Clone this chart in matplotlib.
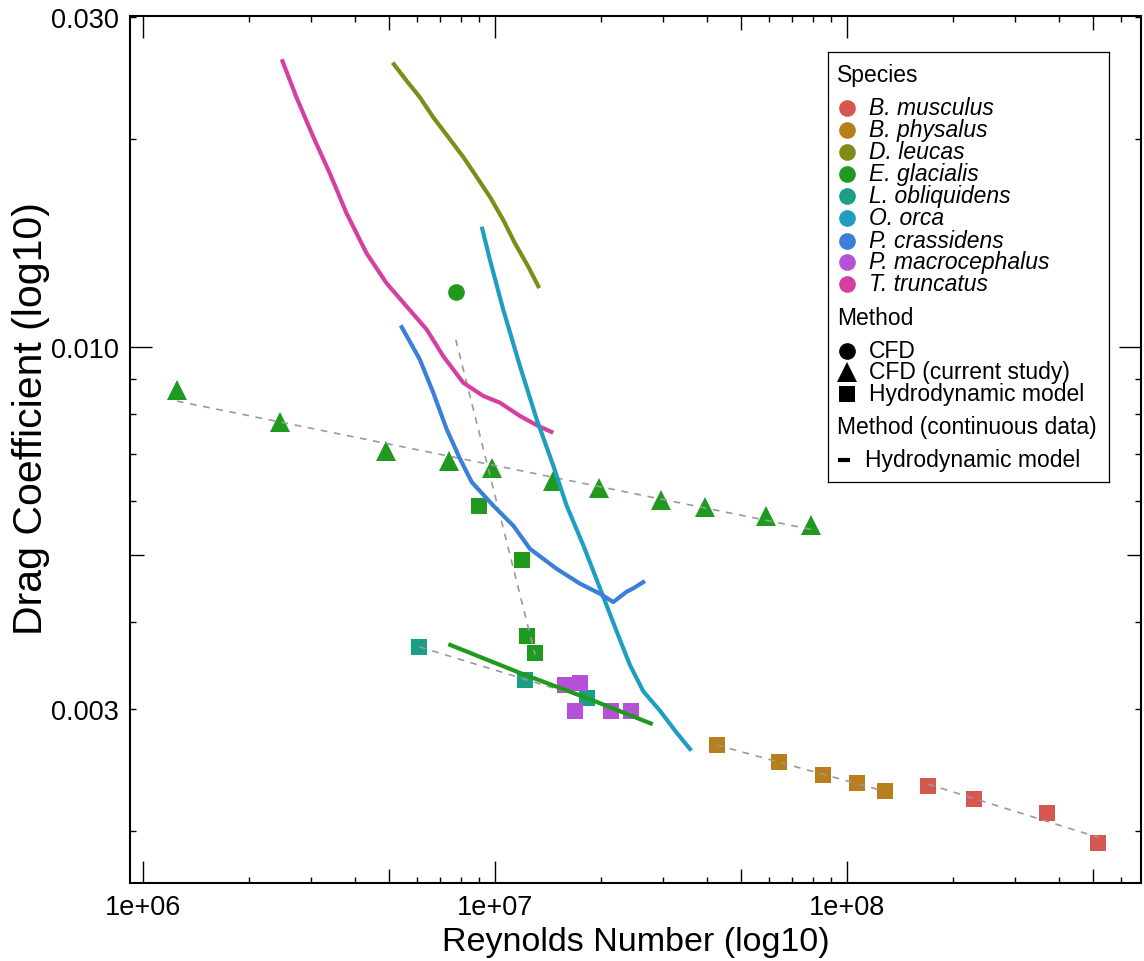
import numpy as np
import matplotlib.pyplot as plt
from matplotlib.ticker import FixedLocator, FuncFormatter, NullFormatter

plt.rcParams['font.family'] = ['Liberation Sans', 'DejaVu Sans']

species = ['B. musculus', 'B. physalus', 'D. leucas', 'E. glacialis', 'L. obliquidens',
           'O. orca', 'P. crassidens', 'P. macrocephalus', 'T. truncatus']
colors = ['#D6574F', '#B87E1C', '#7F8C1A', '#1F9A1F', '#1A9E86',
          '#1F9EC2', '#3B7FD8', '#B551D6', '#D43FA0']
col = dict(zip(species, colors))

# --- point data: Reynolds number / drag coefficient ---
# E. glacialis, CFD (current study)
eg_cur_re = [1.25e6, 2.45e6, 4.9e6, 7.4e6, 9.8e6, 1.46e7, 1.97e7, 2.96e7, 3.95e7, 5.9e7, 7.9e7]
eg_cur_cd = [0.00866, 0.00779, 0.00708, 0.00685, 0.00669, 0.00641, 0.00625, 0.00602, 0.00588, 0.00570, 0.00553]
# E. glacialis, CFD
eg_cfd_re = [7.74e6]
eg_cfd_cd = [0.0120]
# hydrodynamic model points
eg_hyd_re = [9.0e6, 1.19e7, 1.23e7, 1.30e7]
eg_hyd_cd = [0.00590, 0.00492, 0.00382, 0.00361]
lo_hyd_re = [6.1e6, 1.22e7, 1.83e7]
lo_hyd_cd = [0.00369, 0.00330, 0.00311]
pm_hyd_re = [1.58e7, 1.74e7, 1.69e7, 2.14e7, 2.43e7]
pm_hyd_cd = [0.00325, 0.00327, 0.00298, 0.00298, 0.00298]
bp_hyd_re = [4.27e7, 6.43e7, 8.55e7, 1.07e8, 1.28e8]
bp_hyd_cd = [0.00266, 0.00251, 0.00241, 0.00234, 0.00228]
bm_hyd_re = [1.70e8, 2.29e8, 3.69e8, 5.18e8]
bm_hyd_cd = [0.00232, 0.00222, 0.00212, 0.00192]

# --- continuous data (hydrodynamic model) ---
tt_re = [2.48e6, 2.73e6, 3.05e6, 3.40e6, 3.79e6, 4.32e6, 4.92e6, 5.61e6, 6.40e6, 7.13e6,
         8.13e6, 9.26e6, 1.033e7, 1.178e7, 1.327e7, 1.464e7]
tt_cd = [0.02606, 0.02296, 0.02011, 0.01780, 0.01560, 0.01366, 0.01237, 0.01145, 0.01060, 0.00970,
         0.00888, 0.00850, 0.00831, 0.00795, 0.00769, 0.00752]
dl_re = [5.12e6, 5.61e6, 6.12e6, 6.68e6, 7.37e6, 8.13e6, 8.87e6, 9.68e6, 1.056e7, 1.140e7, 1.243e7, 1.336e7]
dl_cd = [0.02577, 0.02426, 0.02296, 0.02148, 0.02011, 0.01882, 0.01762, 0.01648, 0.01526, 0.01412, 0.01307, 0.01217]
oo_re = [9.17e6, 9.68e6, 1.056e7, 1.178e7, 1.314e7, 1.464e7, 1.598e7, 1.782e7, 1.988e7, 2.217e7,
         2.418e7, 2.638e7, 2.943e7, 3.283e7, 3.612e7]
oo_cd = [0.01493, 0.01336, 0.01132, 0.00938, 0.00786, 0.00674, 0.00590, 0.00517, 0.00448, 0.00388,
         0.00347, 0.00318, 0.00298, 0.00277, 0.00261]
pc_re = [5.40e6, 6.12e6, 6.68e6, 7.29e6, 7.96e6, 8.59e6, 9.89e6, 1.127e7, 1.257e7, 1.497e7,
         1.744e7, 1.988e7, 2.168e7, 2.367e7, 2.471e7, 2.668e7]
pc_cd = [0.01075, 0.00959, 0.00859, 0.00761, 0.00689, 0.00638, 0.00590, 0.00552, 0.00511, 0.00478,
         0.00455, 0.00440, 0.00428, 0.00443, 0.00448, 0.00459]
eg_re = [7.37e6, 1.178e7, 1.822e7, 2.805e7]
eg_cd = [0.00372, 0.00338, 0.00311, 0.00285]

W, H = 1144, 962
fig = plt.figure(figsize=(W / 100, H / 100), dpi=100)
ax = fig.add_axes([130 / W, 1 - 884 / H, 1011 / W, 867 / H])
ax.set_xscale('log')
ax.set_yscale('log')
xlim = (9.19e5, 6.84e8)
ylim = (0.00168, 0.0301)
ax.set_xlim(xlim)
ax.set_ylim(ylim)

# points
ms = 12
ax.plot(bm_hyd_re, bm_hyd_cd, 's', ms=ms, mew=0, color=col['B. musculus'], zorder=2)
ax.plot(bp_hyd_re, bp_hyd_cd, 's', ms=ms, mew=0, color=col['B. physalus'], zorder=2)
ax.plot(eg_hyd_re, eg_hyd_cd, 's', ms=ms, mew=0, color=col['E. glacialis'], zorder=2)
ax.plot(lo_hyd_re, lo_hyd_cd, 's', ms=ms, mew=0, color=col['L. obliquidens'], zorder=2)
ax.plot(pm_hyd_re, pm_hyd_cd, 's', ms=ms, mew=0, color=col['P. macrocephalus'], zorder=2)
ax.plot(eg_cfd_re, eg_cfd_cd, 'o', ms=ms, mew=0, color=col['E. glacialis'], zorder=2)
ax.plot(eg_cur_re, eg_cur_cd, '^', ms=15, mew=0, color=col['E. glacialis'], zorder=2)

# log-log linear fits per group
fits = [(eg_cur_re, eg_cur_cd), (eg_cfd_re + eg_hyd_re, eg_cfd_cd + eg_hyd_cd),
        (lo_hyd_re, lo_hyd_cd), (pm_hyd_re, pm_hyd_cd), (bp_hyd_re, bp_hyd_cd), (bm_hyd_re, bm_hyd_cd)]
for re, cd in fits:
    lx, ly = np.log10(re), np.log10(cd)
    k, b = np.polyfit(lx, ly, 1)
    xs = np.array([lx.min(), lx.max()])
    ax.plot(10 ** xs, 10 ** (k * xs + b), color='#9A9A9A', lw=1.2, ls=(0, (4, 4)), zorder=3)

# continuous curves
for re, cd, sp in [(tt_re, tt_cd, 'T. truncatus'), (dl_re, dl_cd, 'D. leucas'), (oo_re, oo_cd, 'O. orca'),
                   (pc_re, pc_cd, 'P. crassidens'), (eg_re, eg_cd, 'E. glacialis')]:
    ax.plot(re, cd, '-', lw=3.0, color=col[sp], solid_capstyle='butt', solid_joinstyle='round', zorder=4)

# log ticks: long at 10^k, short at the others, medium at 5*10^k
xmaj = [1e6, 1e7, 1e8]
xmin_ = [m * 10 ** e for e in (5, 6, 7, 8) for m in (2, 3, 4, 6, 7, 8, 9)]
ymaj = [0.01]
ymin_ = [m * 10 ** e for e in (-3, -2) for m in (2, 3, 4, 6, 7, 8, 9)]
ax.xaxis.set_major_locator(FixedLocator(xmaj))
ax.xaxis.set_minor_locator(FixedLocator(xmin_))
ax.yaxis.set_major_locator(FixedLocator(ymaj))
ax.yaxis.set_minor_locator(FixedLocator(ymin_))
ax.xaxis.set_major_formatter(FuncFormatter(lambda v, p: '1e+%02d' % round(np.log10(v))))
ax.xaxis.set_minor_formatter(NullFormatter())
ax.yaxis.set_major_formatter(FuncFormatter(lambda v, p: '%.3f' % v))
ax.yaxis.set_minor_formatter(FuncFormatter(lambda v, p: '%.3f' % v if abs(v - 0.003) < 1e-6 or abs(v - 0.03) < 1e-6 else ''))
ax.tick_params(which='both', direction='in', top=True, right=True, width=1.0, colors='black',
               labelsize=19.5, pad=8)
ax.tick_params(which='major', length=16)
ax.tick_params(which='minor', length=4.5)
for s in ax.spines.values():
    s.set_linewidth(1.5)

mid = fig.add_axes(ax.get_position(), frameon=False)
mid.set_xscale('log')
mid.set_yscale('log')
mid.set_xlim(xlim)
mid.set_ylim(ylim)
mid.xaxis.set_major_locator(FixedLocator([5e6, 5e7, 5e8]))
mid.yaxis.set_major_locator(FixedLocator([0.005]))
mid.xaxis.set_minor_locator(FixedLocator([]))
mid.yaxis.set_minor_locator(FixedLocator([]))
mid.tick_params(which='both', direction='in', top=True, right=True, width=1.0, length=10,
                labelbottom=False, labelleft=False)
mid.patch.set_visible(False)

ax.set_xlabel('Reynolds Number (log10)', fontsize=24.5, labelpad=4)
ax.set_ylabel('Drag Coefficient (log10)', fontsize=29.5)
ax.yaxis.set_label_coords(-0.079, 0.537)

# legend panel
lg = fig.add_axes([828 / W, 1 - 483 / H, 281 / W, 430 / H])
lg.set_xlim(0, 281)
lg.set_ylim(430, 0)
lg.set_xticks([])
lg.set_yticks([])
for s in lg.spines.values():
    s.set_linewidth(0.9)
fs = 16.5
lg.text(9, 23, 'Species', fontsize=fs, va='center')
rows = [56, 78, 100, 122, 144, 166, 189, 210, 232]
for sp, y in zip(species, rows):
    lg.plot(19, y, 'o', ms=12, mew=0, color=col[sp])
    lg.text(41, y, sp, fontsize=fs, style='italic', va='center')
lg.text(9, 266, 'Method', fontsize=fs, va='center')
for mk, lab, y, size in [('o', 'CFD', 299, 12), ('^', 'CFD (current study)', 320, 15),
                         ('s', 'Hydrodynamic model', 342, 11)]:
    lg.plot(19, y, mk, ms=size, mew=0, color='black')
    lg.text(41, y, lab, fontsize=fs, va='center')
lg.text(9, 375, 'Method (continuous data)', fontsize=fs, va='center')
lg.plot([10, 22], [408, 408], '-', lw=3, color='black', solid_capstyle='butt')
lg.text(37, 408, 'Hydrodynamic model', fontsize=fs, va='center')

fig.savefig('out.png', dpi=100)
